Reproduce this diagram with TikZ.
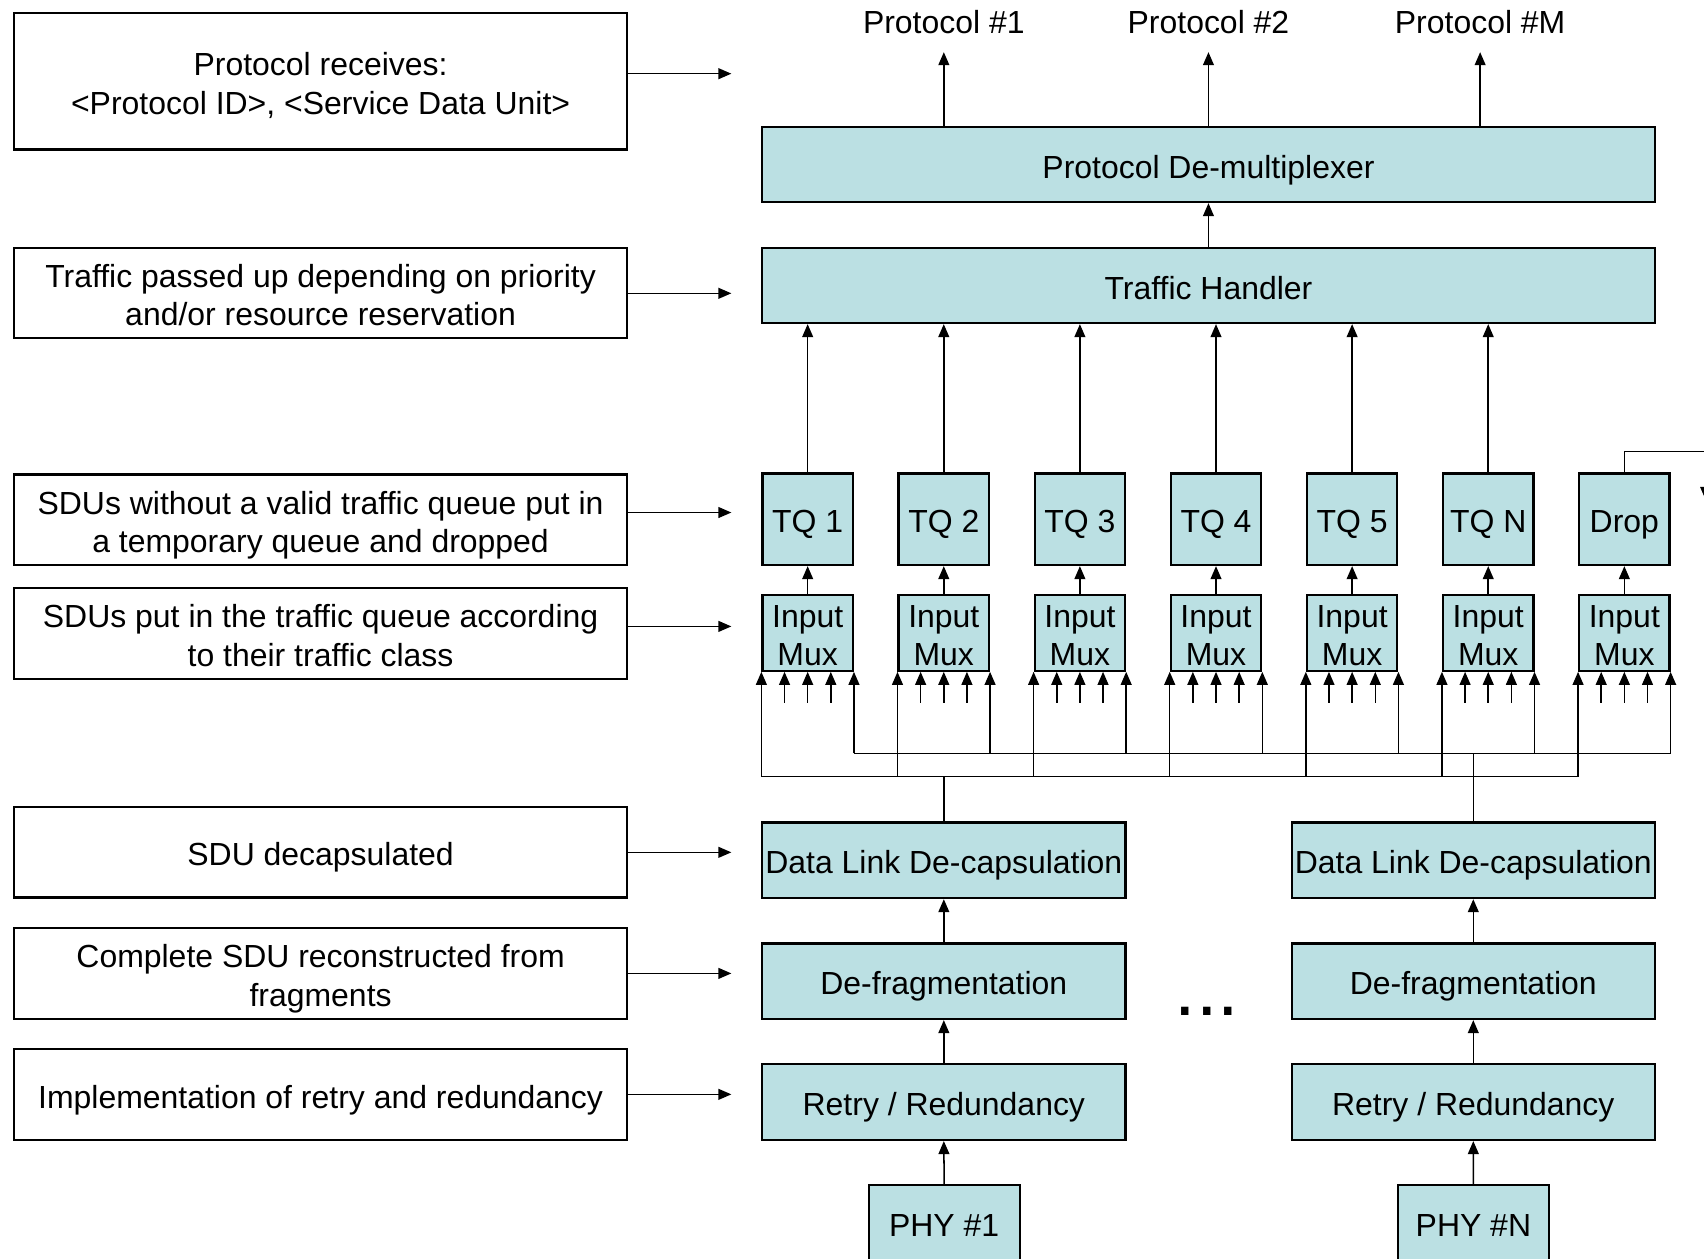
\documentclass[tikz,border=0pt]{standalone}
\usepackage{fontspec}
\setmainfont{Liberation Sans}
\usetikzlibrary{arrows.meta,calc}
\definecolor{boxfill}{RGB}{187,224,227}
\begin{document}
\begin{tikzpicture}[x=0.5pt,y=-0.5pt,
  font=\fontsize{14.7}{17.8}\selectfont,
  oneline/.style={text height=12.6pt,text depth=0pt},
  twoline/.style={text height=30.4pt,text depth=0pt},
  blk/.style={draw=black,line width=1pt,fill=boxfill,inner sep=0pt,align=center,oneline},
  note/.style={draw=black,line width=1pt,fill=white,inner sep=0pt,align=center,
               minimum width=282pt,minimum height=41.6pt,twoline},
  conn/.style={line width=0.7pt,-{Triangle[length=6pt,width=5pt]}},
  wire/.style={line width=0.7pt},
  queue/.style={blk,minimum width=41.6pt,minimum height=42.15pt},
  mux/.style={blk,minimum width=41.6pt,minimum height=34.85pt,twoline},
  wide/.style={blk,minimum width=410.6pt,minimum height=34.65pt},
  stage/.style={blk,minimum width=167.15pt,minimum height=34.8pt},
  phy/.style={blk,minimum width=69.5pt,minimum height=34.5pt},
]
\useasboundingbox (0,0) rectangle (1568,1158);
\clip (0,0) rectangle (1568,1158);

% ---------- explanatory notes on the left ----------
\node[note,minimum height=62.6pt] (n1) at (295,74.9)
  {Protocol receives:\\<Protocol ID>, <Service Data Unit>};
\node[note] (n2) at (295,269.5)
  {Traffic passed up depending on priority\\and/or resource reservation};
\node[note] (n3) at (295,478.2)
  {SDUs without a valid traffic queue put in\\a temporary queue and dropped};
\node[note] (n4) at (295,582.9)
  {SDUs put in the traffic queue according\\to their traffic class};
\node[note,oneline] (n5) at (295,784.2) {SDU decapsulated};
\node[note] (n6) at (295,895.7) {Complete SDU reconstructed from\\fragments};
\node[note,oneline] (n7) at (295,1007.2) {Implementation of retry and redundancy};

\coordinate (a1) at (673,67.8);
\coordinate (a2) at (673,269.9);
\coordinate (a3) at (673,471.6);
\coordinate (a4) at (673,576.4);
\coordinate (a5) at (673,784.3);
\coordinate (a6) at (673,895.7);
\coordinate (a7) at (673,1007);
\foreach \i in {1,...,7} \draw[conn] (n\i.east |- a\i) -- (a\i);

% ---------- protocol layer ----------
\node (p1) at (868.5,20) {Protocol \#1};
\node (p2) at (1112,20) {Protocol \#2};
\node (pm) at (1362,20) {Protocol \#M};
\node[wide] (pd) at (1112,151.3) {Protocol De-multiplexer};
\node[wide] (th) at (1112,262.6) {Traffic Handler};
\coordinate (t1) at (868.5,48);
\coordinate (t2) at (1112,48);
\coordinate (tm) at (1362,48);
\draw[conn] (pd.north -| t1) -- (t1);
\draw[conn] (pd.north -| t2) -- (t2);
\draw[conn] (pd.north -| tm) -- (tm);
\draw[conn] (th.north) -- (pd.south);

% ---------- traffic queues and input multiplexers ----------
\foreach \k/\lbl in {1/TQ 1,2/TQ 2,3/TQ 3,4/TQ 4,5/TQ 5,6/TQ N,7/Drop}{
  \pgfmathsetmacro{\cx}{743.2+125.25*(\k-1)}
  \node[queue] (q\k) at (\cx,477.8) {\lbl};
  \node[mux] (m\k) at (\cx,582.35) {Input\\Mux};
  \draw[conn] (m\k.north) -- (q\k.south);
}
\foreach \k in {1,...,6} \draw[conn] (q\k.north) -- (q\k.north |- th.south);

% discarded traffic leaves the picture to the right
\coordinate (dropcorner) at (1494.7,415.6);
\coordinate (dropend) at (1569.5,460);
\draw[conn] (q7.north) -- (q7.north |- dropcorner) -| (dropend);

% multiplexer inputs
\coordinate (upbus) at (0,693.2);
\coordinate (lowbus) at (0,714.7);
\foreach \k in {1,...,7}{
  \foreach \f in {0.25,0.5,0.75}
    \draw[conn] ($(m\k.south west)!\f!(m\k.south east)+(0,28.5)$)
               -- ($(m\k.south west)!\f!(m\k.south east)$);
  \draw[conn] (m\k.south west |- lowbus) -- (m\k.south west);
  \draw[conn] (m\k.south east |- upbus) -- (m\k.south east);
}
\draw[wire] (m1.south west |- lowbus) -- (m7.south west |- lowbus);
\draw[wire] (m1.south east |- upbus) -- (m7.south east |- upbus);

% ---------- per-PHY receive chains ----------
\node[stage] (dl1) at (868.5,791.6) {Data Link De-capsulation};
\node[stage] (df1) at (868.5,902.9) {De-fragmentation};
\node[stage] (rr1) at (868.5,1014.2) {Retry / Redundancy};
\node[phy] (phy1) at (868.8,1125) {PHY \#1};

\node[stage] (dl2) at (1355.7,791.6) {Data Link De-capsulation};
\node[stage] (df2) at (1355.7,902.9) {De-fragmentation};
\node[stage] (rr2) at (1355.7,1014.2) {Retry / Redundancy};
\node[phy] (phy2) at (1355.8,1125) {PHY \#N};

\node[inner sep=0pt,font=\fontsize{35.6}{36}\selectfont] (dots) at (1110.7,931) {...};

\foreach \c in {1,2}{
  \draw[conn] (phy\c.north) -- (rr\c.south);
  \draw[conn] (rr\c.north) -- (df\c.south);
  \draw[conn] (df\c.north) -- (dl\c.south);
}
\draw[wire] (dl1.north) -- (dl1.north |- lowbus);
\draw[wire] (dl2.north) -- (dl2.north |- upbus);
\end{tikzpicture}
\end{document}
